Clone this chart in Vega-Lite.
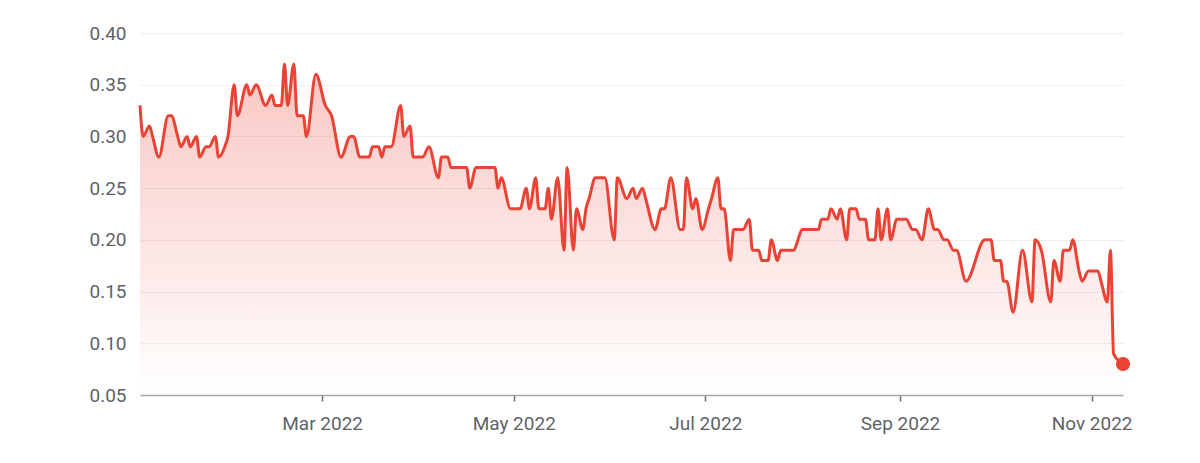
{
  "$schema": "https://vega.github.io/schema/vega-lite/v6.json",
  "width": 983,
  "height": 362,
  "autosize": {"type": "none"},
  "padding": {"left": 140, "top": 33, "right": 77, "bottom": 68},
  "background": "#ffffff",
  "config": {
    "view": {"stroke": null},
    "font": "Roboto",
    "axis": {"labelFont": "Roboto", "labelFontSize": 19, "labelColor": "#5f6368", "titleFont": "Roboto"}
  },
  "data": {
    "format": {"parse": {"date": "date"}},
    "values": [
      {"date": "2022-01-02", "value": 0.33},
      {"date": "2022-01-03", "value": 0.30},
      {"date": "2022-01-05", "value": 0.31},
      {"date": "2022-01-06", "value": 0.30},
      {"date": "2022-01-08", "value": 0.28},
      {"date": "2022-01-11", "value": 0.32},
      {"date": "2022-01-12", "value": 0.32},
      {"date": "2022-01-14", "value": 0.30},
      {"date": "2022-01-15", "value": 0.29},
      {"date": "2022-01-17", "value": 0.30},
      {"date": "2022-01-18", "value": 0.29},
      {"date": "2022-01-20", "value": 0.30},
      {"date": "2022-01-21", "value": 0.28},
      {"date": "2022-01-23", "value": 0.29},
      {"date": "2022-01-24", "value": 0.29},
      {"date": "2022-01-26", "value": 0.30},
      {"date": "2022-01-27", "value": 0.28},
      {"date": "2022-01-29", "value": 0.29},
      {"date": "2022-01-30", "value": 0.30},
      {"date": "2022-02-01", "value": 0.35},
      {"date": "2022-02-02", "value": 0.32},
      {"date": "2022-02-05", "value": 0.35},
      {"date": "2022-02-06", "value": 0.34},
      {"date": "2022-02-08", "value": 0.35},
      {"date": "2022-02-11", "value": 0.33},
      {"date": "2022-02-13", "value": 0.34},
      {"date": "2022-02-14", "value": 0.33},
      {"date": "2022-02-16", "value": 0.33},
      {"date": "2022-02-17", "value": 0.37},
      {"date": "2022-02-18", "value": 0.33},
      {"date": "2022-02-20", "value": 0.37},
      {"date": "2022-02-21", "value": 0.32},
      {"date": "2022-02-23", "value": 0.32},
      {"date": "2022-02-24", "value": 0.30},
      {"date": "2022-02-27", "value": 0.36},
      {"date": "2022-03-02", "value": 0.33},
      {"date": "2022-03-04", "value": 0.32},
      {"date": "2022-03-07", "value": 0.28},
      {"date": "2022-03-10", "value": 0.30},
      {"date": "2022-03-11", "value": 0.30},
      {"date": "2022-03-13", "value": 0.28},
      {"date": "2022-03-16", "value": 0.28},
      {"date": "2022-03-17", "value": 0.29},
      {"date": "2022-03-19", "value": 0.29},
      {"date": "2022-03-20", "value": 0.28},
      {"date": "2022-03-21", "value": 0.29},
      {"date": "2022-03-23", "value": 0.29},
      {"date": "2022-03-26", "value": 0.33},
      {"date": "2022-03-27", "value": 0.30},
      {"date": "2022-03-29", "value": 0.31},
      {"date": "2022-03-30", "value": 0.28},
      {"date": "2022-04-02", "value": 0.28},
      {"date": "2022-04-04", "value": 0.29},
      {"date": "2022-04-07", "value": 0.26},
      {"date": "2022-04-08", "value": 0.28},
      {"date": "2022-04-10", "value": 0.28},
      {"date": "2022-04-11", "value": 0.27},
      {"date": "2022-04-16", "value": 0.27},
      {"date": "2022-04-17", "value": 0.25},
      {"date": "2022-04-19", "value": 0.27},
      {"date": "2022-04-25", "value": 0.27},
      {"date": "2022-04-26", "value": 0.25},
      {"date": "2022-04-27", "value": 0.26},
      {"date": "2022-04-30", "value": 0.23},
      {"date": "2022-05-03", "value": 0.23},
      {"date": "2022-05-05", "value": 0.25},
      {"date": "2022-05-06", "value": 0.23},
      {"date": "2022-05-08", "value": 0.26},
      {"date": "2022-05-09", "value": 0.23},
      {"date": "2022-05-11", "value": 0.23},
      {"date": "2022-05-12", "value": 0.25},
      {"date": "2022-05-13", "value": 0.22},
      {"date": "2022-05-15", "value": 0.26},
      {"date": "2022-05-17", "value": 0.19},
      {"date": "2022-05-18", "value": 0.27},
      {"date": "2022-05-20", "value": 0.19},
      {"date": "2022-05-21", "value": 0.23},
      {"date": "2022-05-23", "value": 0.21},
      {"date": "2022-05-24", "value": 0.23},
      {"date": "2022-05-25", "value": 0.24},
      {"date": "2022-05-27", "value": 0.26},
      {"date": "2022-05-30", "value": 0.26},
      {"date": "2022-06-02", "value": 0.20},
      {"date": "2022-06-03", "value": 0.26},
      {"date": "2022-06-06", "value": 0.24},
      {"date": "2022-06-08", "value": 0.25},
      {"date": "2022-06-09", "value": 0.24},
      {"date": "2022-06-11", "value": 0.25},
      {"date": "2022-06-12", "value": 0.24},
      {"date": "2022-06-15", "value": 0.21},
      {"date": "2022-06-17", "value": 0.23},
      {"date": "2022-06-18", "value": 0.23},
      {"date": "2022-06-20", "value": 0.26},
      {"date": "2022-06-23", "value": 0.21},
      {"date": "2022-06-24", "value": 0.21},
      {"date": "2022-06-25", "value": 0.26},
      {"date": "2022-06-27", "value": 0.23},
      {"date": "2022-06-28", "value": 0.24},
      {"date": "2022-06-30", "value": 0.21},
      {"date": "2022-07-02", "value": 0.23},
      {"date": "2022-07-03", "value": 0.24},
      {"date": "2022-07-05", "value": 0.26},
      {"date": "2022-07-06", "value": 0.23},
      {"date": "2022-07-07", "value": 0.23},
      {"date": "2022-07-09", "value": 0.18},
      {"date": "2022-07-10", "value": 0.21},
      {"date": "2022-07-13", "value": 0.21},
      {"date": "2022-07-15", "value": 0.22},
      {"date": "2022-07-16", "value": 0.19},
      {"date": "2022-07-18", "value": 0.19},
      {"date": "2022-07-19", "value": 0.18},
      {"date": "2022-07-21", "value": 0.18},
      {"date": "2022-07-22", "value": 0.20},
      {"date": "2022-07-24", "value": 0.18},
      {"date": "2022-07-25", "value": 0.19},
      {"date": "2022-07-29", "value": 0.19},
      {"date": "2022-08-01", "value": 0.21},
      {"date": "2022-08-06", "value": 0.21},
      {"date": "2022-08-07", "value": 0.22},
      {"date": "2022-08-09", "value": 0.22},
      {"date": "2022-08-10", "value": 0.23},
      {"date": "2022-08-12", "value": 0.22},
      {"date": "2022-08-13", "value": 0.23},
      {"date": "2022-08-15", "value": 0.20},
      {"date": "2022-08-16", "value": 0.23},
      {"date": "2022-08-18", "value": 0.23},
      {"date": "2022-08-19", "value": 0.22},
      {"date": "2022-08-21", "value": 0.22},
      {"date": "2022-08-22", "value": 0.20},
      {"date": "2022-08-24", "value": 0.20},
      {"date": "2022-08-25", "value": 0.23},
      {"date": "2022-08-26", "value": 0.20},
      {"date": "2022-08-28", "value": 0.23},
      {"date": "2022-08-29", "value": 0.20},
      {"date": "2022-08-31", "value": 0.22},
      {"date": "2022-09-03", "value": 0.22},
      {"date": "2022-09-05", "value": 0.21},
      {"date": "2022-09-06", "value": 0.21},
      {"date": "2022-09-08", "value": 0.20},
      {"date": "2022-09-10", "value": 0.23},
      {"date": "2022-09-12", "value": 0.21},
      {"date": "2022-09-13", "value": 0.21},
      {"date": "2022-09-15", "value": 0.20},
      {"date": "2022-09-16", "value": 0.20},
      {"date": "2022-09-18", "value": 0.19},
      {"date": "2022-09-19", "value": 0.19},
      {"date": "2022-09-22", "value": 0.16},
      {"date": "2022-09-28", "value": 0.20},
      {"date": "2022-09-30", "value": 0.20},
      {"date": "2022-10-01", "value": 0.18},
      {"date": "2022-10-03", "value": 0.18},
      {"date": "2022-10-04", "value": 0.16},
      {"date": "2022-10-05", "value": 0.16},
      {"date": "2022-10-07", "value": 0.13},
      {"date": "2022-10-10", "value": 0.19},
      {"date": "2022-10-13", "value": 0.14},
      {"date": "2022-10-14", "value": 0.20},
      {"date": "2022-10-16", "value": 0.19},
      {"date": "2022-10-19", "value": 0.14},
      {"date": "2022-10-20", "value": 0.18},
      {"date": "2022-10-22", "value": 0.16},
      {"date": "2022-10-23", "value": 0.19},
      {"date": "2022-10-25", "value": 0.19},
      {"date": "2022-10-26", "value": 0.20},
      {"date": "2022-10-28", "value": 0.17},
      {"date": "2022-10-29", "value": 0.16},
      {"date": "2022-10-31", "value": 0.17},
      {"date": "2022-11-03", "value": 0.17},
      {"date": "2022-11-04", "value": 0.16},
      {"date": "2022-11-06", "value": 0.14},
      {"date": "2022-11-07", "value": 0.19},
      {"date": "2022-11-08", "value": 0.09},
      {"date": "2022-11-11", "value": 0.08}
    ]
  },
  "encoding": {
    "x": {
      "field": "date",
      "type": "temporal",
      "scale": {"nice": false},
      "axis": {
        "title": null,
        "format": "%b %Y",
        "tickCount": {"interval": "month", "step": 2},
        "grid": false,
        "domainColor": "#a6a6a6",
        "domainWidth": 1.5,
        "tickColor": "#6f6f6f",
        "tickWidth": 1.5,
        "tickSize": 6,
        "labelPadding": 13,
        "labelFlush": false
      }
    },
    "y": {
      "field": "value",
      "type": "quantitative",
      "scale": {"domain": [0.05, 0.40], "zero": false, "nice": false},
      "axis": {
        "title": null,
        "values": [0.05, 0.10, 0.15, 0.20, 0.25, 0.30, 0.35, 0.40],
        "format": ".2f",
        "domain": false,
        "ticks": false,
        "labelPadding": 14,
        "gridColor": "#efefef",
        "gridWidth": 1.2
      }
    }
  },
  "layer": [
    {
      "mark": {
        "type": "area",
        "interpolate": "monotone",
        "color": {
          "gradient": "linear",
          "x1": 1, "y1": 0, "x2": 1, "y2": 1,
          "stops": [
            {"offset": 0, "color": "rgba(234,67,53,0.30)"},
            {"offset": 1, "color": "rgba(234,67,53,0.0)"}
          ]
        }
      },
      "encoding": {"y2": {"datum": 0.05}}
    },
    {
      "mark": {"type": "line", "interpolate": "monotone", "color": "#EA4335", "strokeWidth": 3}
    },
    {
      "transform": [
        {"joinaggregate": [{"op": "max", "field": "date", "as": "maxd"}]},
        {"filter": "+datum.date === +datum.maxd"}
      ],
      "mark": {"type": "point", "filled": true, "opacity": 1, "color": "#EA4335", "size": 200}
    }
  ]
}
